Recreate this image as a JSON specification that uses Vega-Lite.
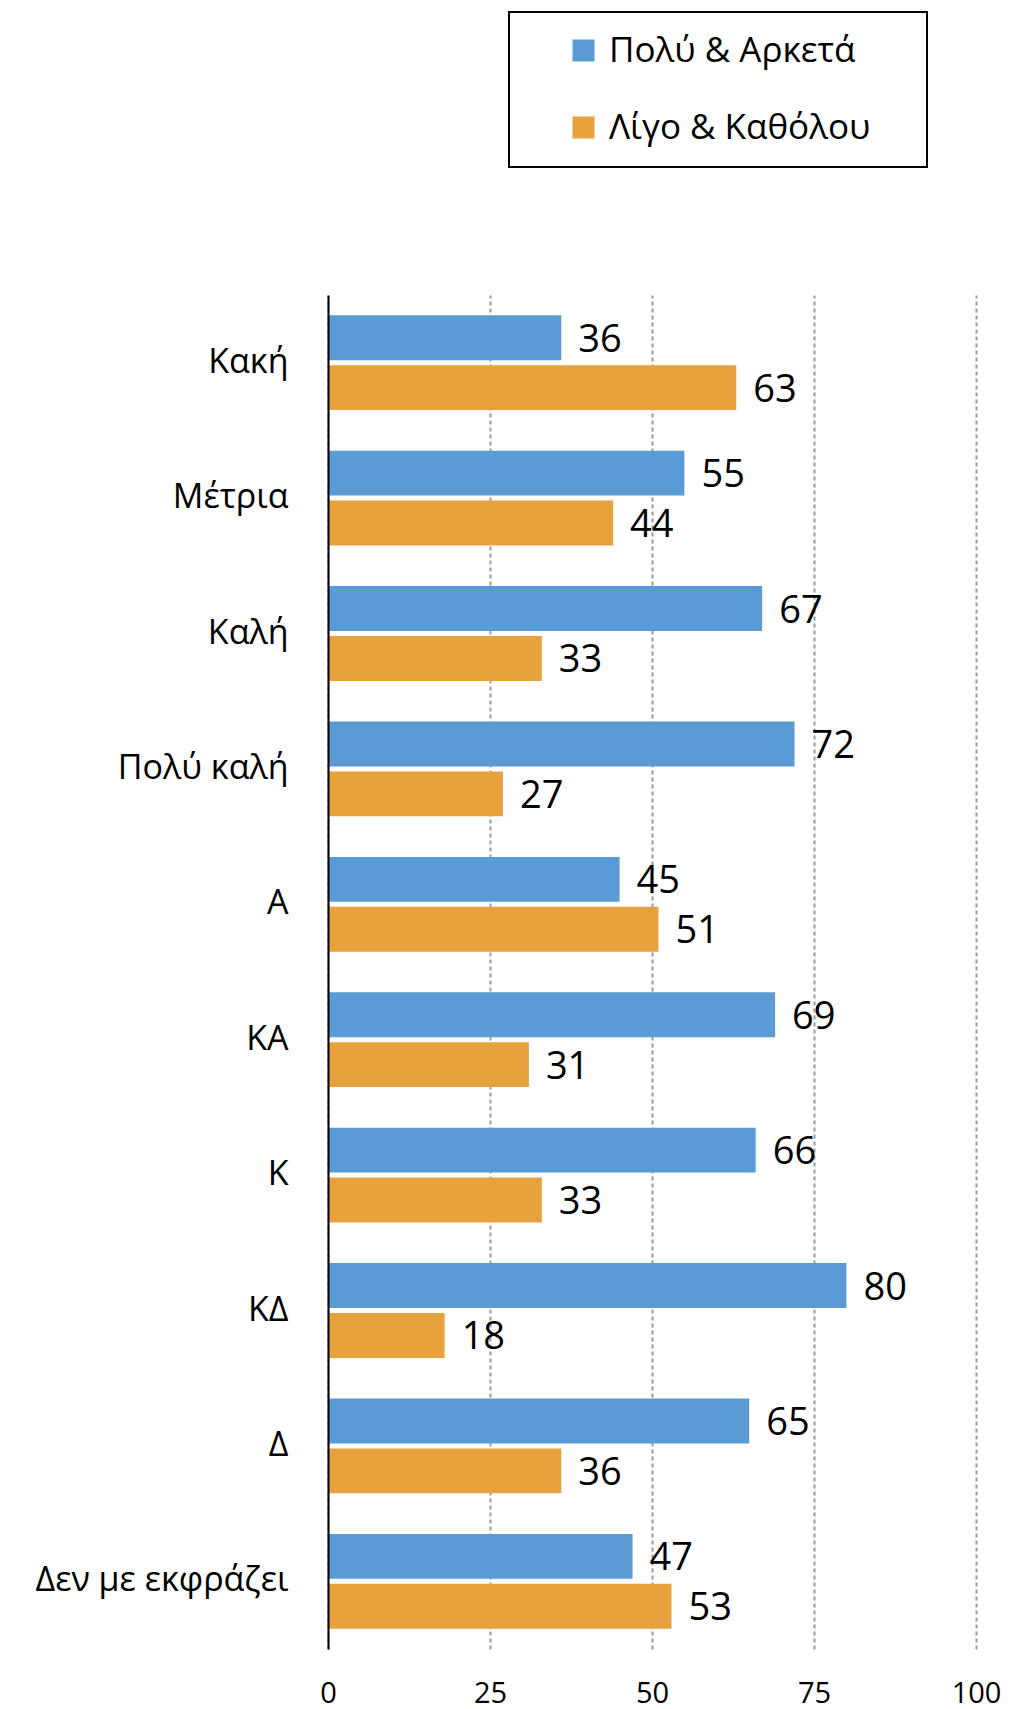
{
  "$schema": "https://vega.github.io/schema/vega-lite/v6.json",
  "autosize": {"type": "none"},
  "padding": {"left": 328, "top": 295, "right": 36, "bottom": 60},
  "width": 648,
  "height": 1354,
  "background": "white",
  "config": {"view": {"stroke": null}, "font": "Open Sans"},
  "data": {
    "values": [
      {"category": "Κακή", "series": "Πολύ & Αρκετά", "value": 36},
      {"category": "Κακή", "series": "Λίγο & Καθόλου", "value": 63},
      {"category": "Μέτρια", "series": "Πολύ & Αρκετά", "value": 55},
      {"category": "Μέτρια", "series": "Λίγο & Καθόλου", "value": 44},
      {"category": "Καλή", "series": "Πολύ & Αρκετά", "value": 67},
      {"category": "Καλή", "series": "Λίγο & Καθόλου", "value": 33},
      {"category": "Πολύ καλή", "series": "Πολύ & Αρκετά", "value": 72},
      {"category": "Πολύ καλή", "series": "Λίγο & Καθόλου", "value": 27},
      {"category": "Α", "series": "Πολύ & Αρκετά", "value": 45},
      {"category": "Α", "series": "Λίγο & Καθόλου", "value": 51},
      {"category": "ΚΑ", "series": "Πολύ & Αρκετά", "value": 69},
      {"category": "ΚΑ", "series": "Λίγο & Καθόλου", "value": 31},
      {"category": "Κ", "series": "Πολύ & Αρκετά", "value": 66},
      {"category": "Κ", "series": "Λίγο & Καθόλου", "value": 33},
      {"category": "ΚΔ", "series": "Πολύ & Αρκετά", "value": 80},
      {"category": "ΚΔ", "series": "Λίγο & Καθόλου", "value": 18},
      {"category": "Δ", "series": "Πολύ & Αρκετά", "value": 65},
      {"category": "Δ", "series": "Λίγο & Καθόλου", "value": 36},
      {"category": "Δεν με εκφράζει", "series": "Πολύ & Αρκετά", "value": 47},
      {"category": "Δεν με εκφράζει", "series": "Λίγο & Καθόλου", "value": 53}
    ]
  },
  "encoding": {
    "y": {
      "field": "category",
      "type": "nominal",
      "sort": ["Κακή", "Μέτρια", "Καλή", "Πολύ καλή", "Α", "ΚΑ", "Κ", "ΚΔ", "Δ", "Δεν με εκφράζει"],
      "scale": {"paddingInner": 0.3, "paddingOuter": 0.15},
      "axis": {
        "title": null,
        "ticks": false,
        "domain": true,
        "domainColor": "black",
        "domainWidth": 2,
        "labelFont": "Open Sans",
        "labelFontSize": 34,
        "labelColor": "black",
        "labelPadding": 40,
        "labelLimit": 400,
        "zindex": 1
      }
    },
    "yOffset": {
      "field": "series",
      "type": "nominal",
      "sort": ["Πολύ & Αρκετά", "Λίγο & Καθόλου"],
      "scale": {"paddingInner": 0.1, "paddingOuter": 0}
    },
    "x": {
      "field": "value",
      "type": "quantitative",
      "scale": {"domain": [0, 100], "nice": false},
      "axis": {
        "title": null,
        "values": [0, 25, 50, 75, 100],
        "domain": false,
        "ticks": false,
        "grid": true,
        "gridColor": "#999999",
        "gridDash": [4, 3],
        "gridWidth": 2,
        "labelFlush": false,
        "labelFont": "Open Sans",
        "labelFontSize": 29,
        "labelColor": "black",
        "labelBaseline": "middle",
        "labelPadding": 44
      }
    }
  },
  "layer": [
    {
      "mark": {"type": "bar"},
      "encoding": {
        "color": {
          "field": "series",
          "type": "nominal",
          "scale": {
            "domain": ["Πολύ & Αρκετά", "Λίγο & Καθόλου"],
            "range": ["#5B9BD5", "#E7A23E"]
          },
          "legend": {
            "orient": "none",
            "legendX": 181,
            "legendY": -283,
            "title": " ",
            "titleOrient": "right",
            "titlePadding": 36,
            "titleFontSize": 2,
            "symbolType": "square",
            "symbolSize": 484,
            "symbolStrokeWidth": 0,
            "symbolOffset": 36,
            "labelOffset": 8,
            "labelFont": "Open Sans",
            "labelFontSize": 35,
            "labelColor": "black",
            "labelLimit": 500,
            "rowPadding": 41,
            "padding": 21,
            "strokeColor": "black",
            "fillColor": "white",
            "encode": {"legend": {"update": {"strokeWidth": {"value": 2}}}}
          }
        }
      }
    },
    {
      "mark": {"type": "text", "align": "left", "baseline": "middle", "dx": 17, "dy": 3, "fontSize": 38, "font": "Open Sans", "color": "black"},
      "encoding": {"text": {"field": "value", "type": "quantitative"}}
    }
  ]
}
